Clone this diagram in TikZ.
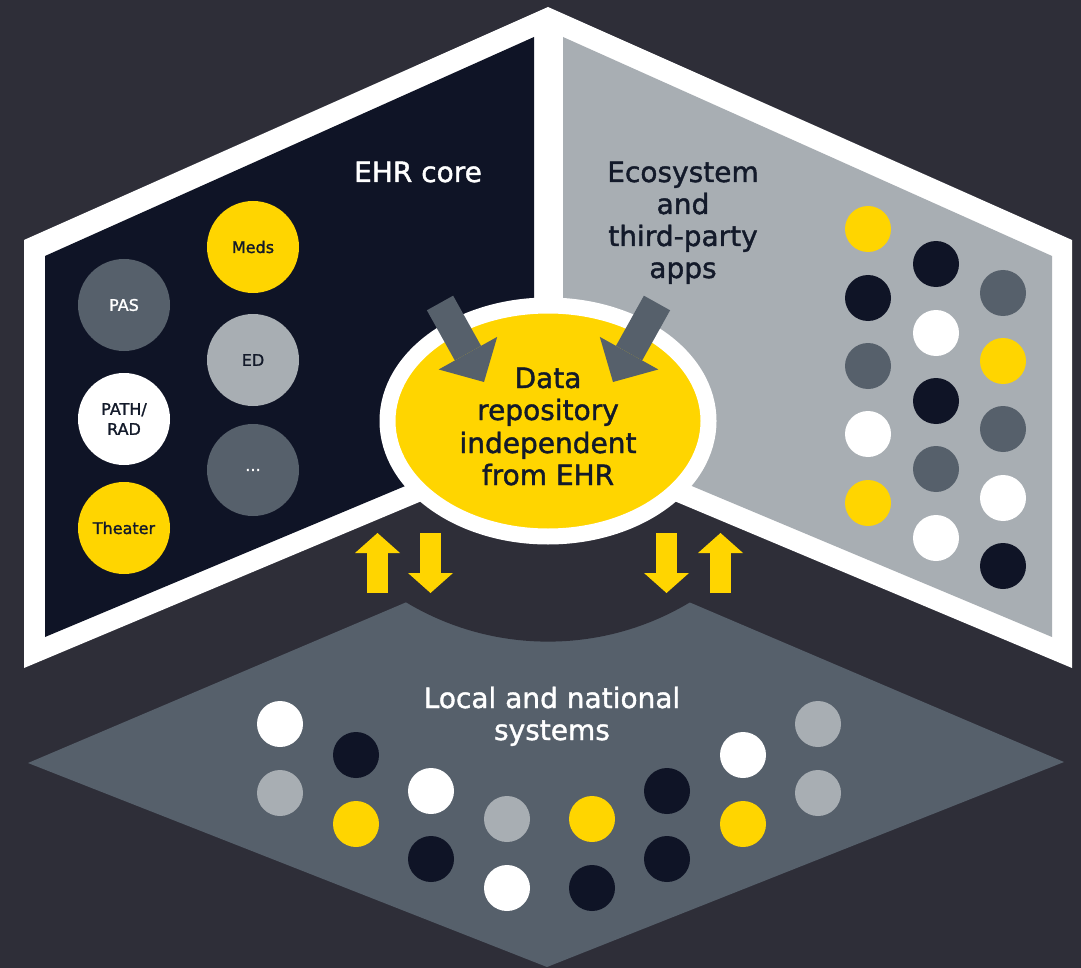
\documentclass[tikz,border=0pt]{standalone}
\usepackage{fontspec}
\setmainfont{DejaVu Sans}
\newfontfamily\medf{DejaVu Sans}[FakeBold=1.4]
\usetikzlibrary{arrows.meta,shapes.geometric}
\definecolor{bgc}{HTML}{2E2E38}
\definecolor{navy}{HTML}{0F1426}
\definecolor{slate}{HTML}{56606B}
\definecolor{lgray}{HTML}{A8AEB3}
\definecolor{eyyellow}{HTML}{FFD500}
\definecolor{txt}{HTML}{131A2A}
\begin{document}
\begin{tikzpicture}[x=1pt,y=-1pt,
  big/.style={font=\medf\fontsize{28}{32}\selectfont, inner sep=0pt, anchor=base},
  lab/.style={circle, minimum size=92pt, inner sep=0pt, font=\medf\fontsize{16}{20}\selectfont, align=center},
  dot/.style={circle, minimum size=46pt, inner sep=0pt},
  garrow/.style={draw=slate, line width=30pt, -{Triangle[width=67pt,length=33pt,line width=0pt]}},
  yarrow/.style={draw=eyyellow, line width=21pt, -{Triangle[width=45pt,length=20pt,line width=0pt]}},
  cY/.style={fill=eyyellow}, cN/.style={fill=navy}, cS/.style={fill=slate},
  cW/.style={fill=white}, cG/.style={fill=lgray}
]
\useasboundingbox (0,0) rectangle (1081,968);
\fill[bgc] (0,0) rectangle (1081,968);
% bottom diamond with concave cut
\fill[slate] (28,763) -- (548,542) -- (1064,762) -- (547,967) -- cycle;
\fill[bgc] (548,366) circle[radius=275.6pt];
% white frame and panels
\fill[white] (24,668) -- (24,240) -- (548,7) -- (1072,240) -- (1072,668) -- (548,448) -- cycle;
\fill[navy] (45,637) -- (45,256) -- (534,37) -- (534,432) -- cycle;
\fill[lgray] (1052,637) -- (1052,256) -- (563,37) -- (563,432) -- cycle;
% central repository
\node[ellipse, fill=eyyellow, draw=white, line width=16pt, inner sep=0pt,
      minimum width=321pt, minimum height=231pt] (repo) at (548,421) {};
% titles
\node[big, white] (ehr) at (418,182) {EHR core};
\node[big, text=txt] (eco1) at (683,182) {Ecosystem};
\node[big, text=txt] (eco2) at (683,214) {and};
\node[big, text=txt] (eco3) at (683,246) {third-party};
\node[big, text=txt] (eco4) at (683,278) {apps};
\node[big, text=txt] (dat1) at (548,388) {Data};
\node[big, text=txt] (dat2) at (548,420) {repository};
\node[big, text=txt] (dat3) at (548,453) {independent};
\node[big, text=txt] (dat4) at (548,485) {from EHR};
\node[big, white] (loc1) at (552,708) {Local and national};
\node[big, white] (loc2) at (552,740) {systems};
% EHR core modules
\node[lab, cY, text=txt] (meds) at (253,247) {Meds};
\node[lab, cS, text=white] (pas) at (124,305) {PAS};
\node[lab, cG, text=txt] (ed) at (253,360) {ED};
\node[lab, cW, text=txt] (pathrad) at (124,419) {PATH/\\RAD};
\node[lab, cS, text=white] (more) at (253,470) {...};
\node[lab, cY, text=txt] (theater) at (124,528) {Theater};
% ecosystem dots
\foreach \x/\y/\c [count=\i] in {868/229/cY,868/298/cN,868/366/cS,868/434/cW,868/503/cY,
  936/264/cN,936/333/cW,936/401/cN,936/469/cS,936/538/cW,
  1003/293/cS,1003/361/cY,1003/429/cS,1003/498/cW,1003/566/cN}
  \node[dot,\c] (e\i) at (\x,\y) {};
% local dots
\foreach \x/\y/\c [count=\i] in {280/724/cW,280/793/cG,356/755/cN,356/824/cY,
  431/791/cW,431/859/cN,507/819/cG,507/888/cW,592/819/cY,592/888/cN,
  667/791/cN,667/859/cN,743/755/cW,743/824/cY,818/724/cG,818/793/cG}
  \node[dot,\c] (l\i) at (\x,\y) {};
% grey arrows into repository
\coordinate (gl0) at (440,303); \coordinate (gl1) at (484,382);
\coordinate (gr0) at (657,303); \coordinate (gr1) at (613,382);
\draw[garrow] (gl0) -- (gl1);
\draw[garrow] (gr0) -- (gr1);
% yellow exchange arrows
\coordinate (ya0) at (377.5,593); \coordinate (ya1) at (377.5,533);
\coordinate (yb0) at (430.5,533); \coordinate (yb1) at (430.5,593);
\coordinate (yc0) at (666.5,533); \coordinate (yc1) at (666.5,593);
\coordinate (yd0) at (720.5,593); \coordinate (yd1) at (720.5,533);
\draw[yarrow] (ya0) -- (ya1);
\draw[yarrow] (yb0) -- (yb1);
\draw[yarrow] (yc0) -- (yc1);
\draw[yarrow] (yd0) -- (yd1);
\end{tikzpicture}
\end{document}
